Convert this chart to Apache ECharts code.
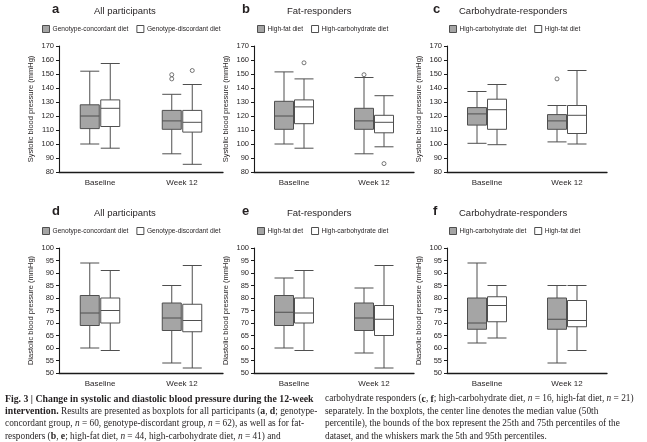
<!DOCTYPE html>
<html>
<head>
<meta charset="utf-8">
<script src="https://cdn.jsdelivr.net/npm/echarts@6/dist/echarts.min.js"></script>
<style>
html,body{margin:0;padding:0;background:#fff;}
#chart{width:647px;height:442px;}
</style>
</head>
<body>
<div id="chart"></div>
<script>
// ---------- data ----------
const categories = ['Baseline', 'Week 12'];
// [min(5th), Q1, median, Q3, max(95th)] for Baseline, Week 12
const sysAllConc = [[100, 111, 120, 128, 152], [93, 110.5, 116.5, 124, 135.5]];
const sysAllDisc = [[97, 112.5, 125.5, 131.5, 157.5], [85.5, 108.5, 115.5, 124, 142.5]];
const sysAllConcOut = [[], [149.5, 146.5]];
const sysAllDiscOut = [[], [152.5]];

const sysFatHF = [[100, 110.5, 120, 130.5, 151.5], [93, 110.5, 116.5, 125.5, 147.5]];
const sysFatHC = [[97, 114.5, 126.5, 131.5, 146.5], [98, 108, 115.5, 120.5, 134.5]];
const sysFatHFOut = [[], [149.5]];
const sysFatHCOut = [[158], [86]];

const sysCarbHC = [[100.5, 113.5, 121.5, 126, 137.5], [101.5, 110.5, 116.5, 121, 127.5]];
const sysCarbHF = [[99.5, 110.5, 124.5, 132, 142.5], [100, 107.5, 120.5, 127.5, 152.5]];
const sysCarbHCOut = [[], [146.5]];
const sysCarbHFOut = [[], []];

const diaAllConc = [[60, 69, 74, 81, 94], [54, 67, 72, 78, 85]];
const diaAllDisc = [[59, 70, 75, 80, 91], [52, 66.5, 71, 77.5, 93]];
const diaFatHF = [[60, 69, 74.3, 81, 88], [58, 67, 72, 78, 84]];
const diaFatHC = [[59, 70, 74, 80, 91], [52, 65, 71.5, 77, 93]];
const diaCarbHC = [[62, 67.5, 70, 80, 94], [54, 67.5, 71.5, 80, 85]];
const diaCarbHF = [[64, 70.5, 77, 80.5, 85], [59, 68.5, 71, 79, 85]];

const legendAll = ['Genotype-concordant diet', 'Genotype-discordant diet'];
const legendFat = ['High-fat diet', 'High-carbohydrate diet'];
const legendCarb = ['High-carbohydrate diet', 'High-fat diet'];
const panelLetters = ['a', 'b', 'c', 'd', 'e', 'f'];
const panelTitles = ['All participants', 'Fat-responders', 'Carbohydrate-responders',
  'All participants', 'Fat-responders', 'Carbohydrate-responders'];
const sysName = 'Systolic blood pressure (mmHg)';
const diaName = 'Diastolic blood pressure (mmHg)';

// ---------- layout ----------
const GREY = '#a5a5a5', EDGE = '#4f4f4f', TXT = '#231f20';
const cols = [{left: 59, width: 164}, {left: 254, width: 160}, {left: 447, width: 160}];
const rows = [{top: 46, height: 126}, {top: 248, height: 125}];
const letterX = [52, 242, 433];
const subX = [94, 287, 459];
const legX = [42, 257, 449];
const rowTitleTop = [3, 205];
const rowLegTop = [25, 227];

const panels = [
  {g: sysAllConc, w: sysAllDisc, go: sysAllConcOut, wo: sysAllDiscOut, names: legendAll},
  {g: sysFatHF, w: sysFatHC, go: sysFatHFOut, wo: sysFatHCOut, names: legendFat},
  {g: sysCarbHC, w: sysCarbHF, go: sysCarbHCOut, wo: sysCarbHFOut, names: legendCarb},
  {g: diaAllConc, w: diaAllDisc, go: [[], []], wo: [[], []], names: legendAll},
  {g: diaFatHF, w: diaFatHC, go: [[], []], wo: [[], []], names: legendFat},
  {g: diaCarbHC, w: diaCarbHF, go: [[], []], wo: [[], []], names: legendCarb}
];

const slots = ['0', '1', '2', '3', '4', '5', '6', '7'];
const greyPos = [1, 5], whitePos = [2, 6];

const grid = [], xAxis = [], yAxis = [], series = [], title = [], legend = [];
const fontFam = 'Liberation Sans, Arial, sans-serif';

panels.forEach(function (p, i) {
  const r = Math.floor(i / 3), c = i % 3;
  grid.push({left: cols[c].left, width: cols[c].width, top: rows[r].top, height: rows[r].height, containLabel: false});
  xAxis.push({
    type: 'category', gridIndex: i, data: categories,
    axisLine: {show: true, lineStyle: {color: '#1a1a1a', width: 1.3}},
    axisTick: {show: false},
    axisLabel: {fontSize: 8, color: TXT, margin: 7, fontFamily: fontFam}
  });
  xAxis.push({type: 'category', gridIndex: i, data: slots, show: false});
  xAxis.push({type: 'category', gridIndex: i, data: slots, show: false});
  const isSys = r === 0;
  yAxis.push({
    type: 'value', gridIndex: i,
    min: isSys ? 80 : 50, max: isSys ? 170 : 100, interval: isSys ? 10 : 5,
    name: isSys ? sysName : diaName, nameLocation: 'middle', nameGap: 24,
    nameTextStyle: {fontSize: 7.5, color: TXT, fontFamily: fontFam},
    axisLine: {show: true, lineStyle: {color: '#1a1a1a', width: 1.1}},
    axisTick: {show: true, length: 3, lineStyle: {color: '#1a1a1a'}},
    splitLine: {show: false},
    axisLabel: {fontSize: 7.5, color: TXT, margin: 5, fontFamily: fontFam}
  });
  const xg = i * 3 + 1, xw = i * 3 + 2;
  series.push({
    type: 'boxplot', name: p.names[0], xAxisIndex: xg, yAxisIndex: i,
    boxWidth: [19, 19], encode: {x: 0, y: [1, 2, 3, 4, 5]},
    data: p.g.map(function (v, k) { return [greyPos[k]].concat(v); }),
    itemStyle: {color: GREY, borderColor: EDGE, borderWidth: 1},
    emphasis: {disabled: true}, silent: true
  });
  series.push({
    type: 'boxplot', name: p.names[1], xAxisIndex: xw, yAxisIndex: i,
    boxWidth: [19, 19], encode: {x: 0, y: [1, 2, 3, 4, 5]},
    data: p.w.map(function (v, k) { return [whitePos[k]].concat(v); }),
    itemStyle: {color: '#ffffff', borderColor: EDGE, borderWidth: 1},
    emphasis: {disabled: true}, silent: true
  });
  const go = [], wo = [];
  p.go.forEach(function (arr, k) { arr.forEach(function (v) { go.push([greyPos[k], v]); }); });
  p.wo.forEach(function (arr, k) { arr.forEach(function (v) { wo.push([whitePos[k], v]); }); });
  if (go.length) series.push({type: 'scatter', name: 'out-g' + i, xAxisIndex: xg, yAxisIndex: i, data: go,
    symbol: 'circle', symbolSize: 4, itemStyle: {color: '#fff', borderColor: '#555', borderWidth: 1}, silent: true});
  if (wo.length) series.push({type: 'scatter', name: 'out-w' + i, xAxisIndex: xw, yAxisIndex: i, data: wo,
    symbol: 'circle', symbolSize: 4, itemStyle: {color: '#fff', borderColor: '#555', borderWidth: 1}, silent: true});

  title.push({text: panelLetters[i], left: letterX[c], top: rowTitleTop[r], padding: 0,
    textStyle: {fontSize: 13, fontWeight: 'bold', color: TXT, fontFamily: fontFam}});
  title.push({text: panelTitles[i], left: subX[c], top: rowTitleTop[r] + 3, padding: 0,
    textStyle: {fontSize: 9.5, fontWeight: 'normal', color: TXT, fontFamily: fontFam}});
  legend.push({
    left: legX[c], top: rowLegTop[r], padding: 0, selectedMode: false,
    itemWidth: 7, itemHeight: 7, itemGap: 8, icon: 'rect',
    textStyle: {fontSize: 6.6, color: TXT, fontFamily: fontFam, padding: [0, 0, 0, -2]},
    data: [
      {name: p.names[0], itemStyle: {color: GREY, borderColor: EDGE, borderWidth: 1}},
      {name: p.names[1], itemStyle: {color: '#ffffff', borderColor: EDGE, borderWidth: 1}}
    ]
  });
});

// ---------- caption ----------
const serif = 'Liberation Serif, Times New Roman, serif';
const capLH = 12.4;
const rich = {
  b: {fontWeight: 'bold', fontSize: 9.8, fontFamily: serif, fill: TXT, lineHeight: capLH},
  i: {fontStyle: 'italic', fontSize: 9.3, fontFamily: serif, fill: TXT, lineHeight: capLH},
  r: {fontSize: 9.3, fontFamily: serif, fill: TXT, lineHeight: capLH}
};
const capLeft =
  '{b|Fig. 3 | Change in systolic and diastolic blood pressure during the 12-week}\n' +
  '{b|intervention.}{r| Results are presented as boxplots for all participants (}{b|a}{r|, }{b|d}{r|; genotype-}\n' +
  '{r|concordant group, }{i|n}{r| = 60, genotype-discordant group, }{i|n}{r| = 62), as well as for fat-}\n' +
  '{r|responders (}{b|b}{r|, }{b|e}{r|; high-fat diet, }{i|n}{r| = 44, high-carbohydrate diet, }{i|n}{r| = 41) and}';
const capRight =
  '{r|carbohydrate responders (}{b|c}{r|, }{b|f}{r|; high-carbohydrate diet, }{i|n}{r| = 16, high-fat diet, }{i|n}{r| = 21)}\n' +
  '{r|separately. In the boxplots, the center line denotes the median value (50th}\n' +
  '{r|percentile), the bounds of the box represent the 25th and 75th percentiles of the}\n' +
  '{r|dataset, and the whiskers mark the 5th and 95th percentiles.}';

const chart = echarts.init(document.getElementById('chart'), null, {renderer: 'canvas'});
chart.setOption({
  animation: false,
  backgroundColor: '#ffffff',
  title: title,
  legend: legend,
  grid: grid,
  xAxis: xAxis,
  yAxis: yAxis,
  series: series,
  graphic: [
    {type: 'text', left: 5, top: 394, silent: true, style: {text: capLeft, rich: rich}},
    {type: 'text', left: 325, top: 394, silent: true, style: {text: capRight, rich: rich}}
  ]
});
</script>
</body>
</html>
